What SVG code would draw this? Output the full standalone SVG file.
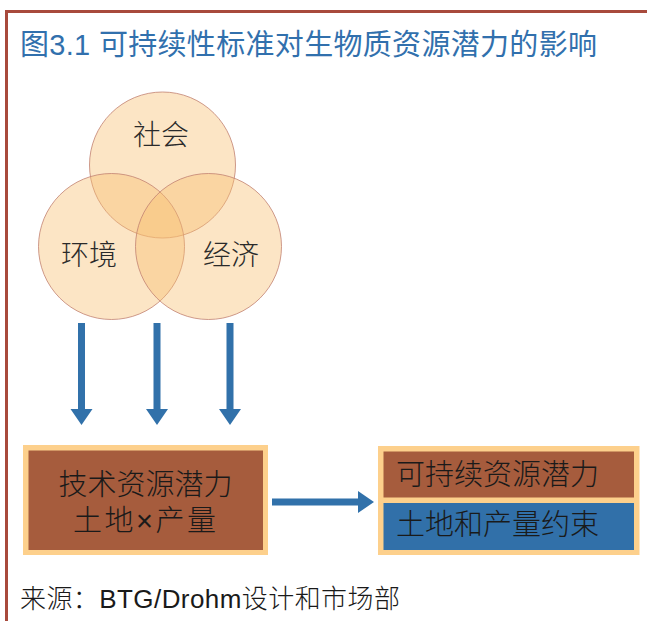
<svg xmlns="http://www.w3.org/2000/svg" width="647" height="621" viewBox="0 0 647 621">
<style>
  .cjk { font-family: "Liberation Sans", "Noto Sans CJK SC", sans-serif; }
  .title { fill: #3170ad; font-size: 29px; }
  .circ { fill: #f7be6e; fill-opacity: 0.4; stroke: #c28272; stroke-width: 1; stroke-opacity: 0.8; }
  .clabel { fill: #2a2a2a; font-size: 28px; text-anchor: middle; font-weight: 300; }
  .outer { fill: #fdd08c; }
  .brown { fill: #a65c3d; }
  .blue { fill: #3170a9; }
  .btext { fill: #1a1a1a; font-size: 29px; font-weight: 300; }
  .arrow { fill: #3171aa; }
  .src { fill: #1a1a1a; font-size: 26px; font-weight: 300; }
</style>
<rect width="647" height="621" fill="#ffffff"/>
<g id="frame">
  <polyline points="6.5,621 6.5,11.5 647,11.5" fill="none" stroke="#a84a3c" stroke-width="3"/>
</g>
<g id="title">
  <text class="cjk title" x="20" y="55" textLength="577" lengthAdjust="spacing">图3.1 可持续性标准对生物质资源潜力的影响</text>
</g>
<g id="venn">
  <g id="circle-society">
    <circle class="circ" cx="162.5" cy="165" r="73"/>
  </g>
  <g id="circle-environment">
    <circle class="circ" cx="111.5" cy="246.5" r="73"/>
  </g>
  <g id="circle-economy">
    <circle class="circ" cx="208.5" cy="246.5" r="73"/>
  </g>
  <text class="cjk clabel" x="161" y="145">社会</text>
  <text class="cjk clabel" x="89" y="265">环境</text>
  <text class="cjk clabel" x="231" y="265">经济</text>
</g>
<g id="connectors">
  <path class="arrow" d="M78,323 H85 V409 H92.5 L81.5,425 L70.5,409 H78 Z"/>
  <path class="arrow" d="M153.5,323 H160.5 V409 H168 L157,425 L146,409 H153.5 Z"/>
  <path class="arrow" d="M226.5,323 H233.5 V409 H241 L230,425 L219,409 H226.5 Z"/>
  <path class="arrow" d="M272,498.5 H358 V491 L374,502 L358,513 V505.5 H272 Z"/>
</g>
<g id="node-technical">
  <rect class="outer" x="23" y="445" width="245" height="110"/>
  <rect class="brown" x="28.5" y="450.5" width="234.5" height="99.5"/>
  <text class="cjk btext" x="145.5" y="495" text-anchor="middle">技术资源潜力</text>
  <text class="cjk btext" x="73" y="531" textLength="143" lengthAdjust="spacing">土地×产量</text>
</g>
<g id="node-sustainable">
  <rect class="outer" x="378" y="446" width="261.5" height="109"/>
  <rect class="brown" x="383.5" y="451.5" width="250.5" height="46"/>
  <rect class="blue" x="383.5" y="503" width="250.5" height="47"/>
  <text class="cjk btext" x="396" y="484.5">可持续资源潜力</text>
  <text class="cjk btext" x="396" y="535">土地和产量约束</text>
</g>
<g id="source">
  <text class="cjk src" x="20" y="608" textLength="380" lengthAdjust="spacing">来源：BTG/Drohm设计和市场部</text>
</g>
</svg>
